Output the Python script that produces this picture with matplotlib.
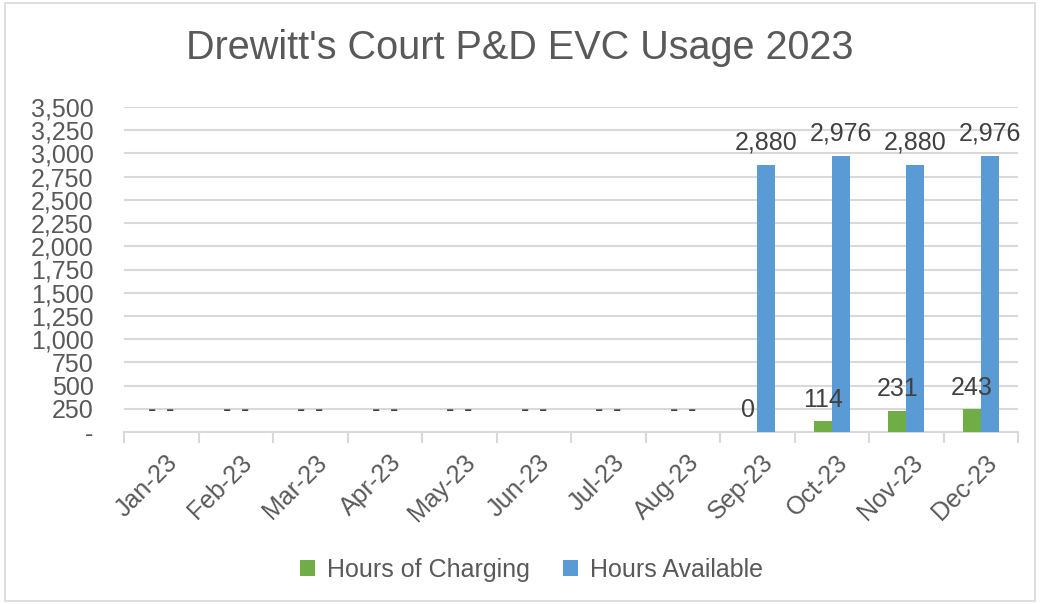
import matplotlib
matplotlib.use("Agg")
import matplotlib.pyplot as plt
import matplotlib.transforms as mtransforms
import numpy as np
from matplotlib.patches import Rectangle

plt.rcParams["font.family"] = ["Liberation Sans", "DejaVu Sans"]

meses = ["Jan-23", "Feb-23", "Mar-23", "Apr-23", "May-23", "Jun-23",
         "Jul-23", "Aug-23", "Sep-23", "Oct-23", "Nov-23", "Dec-23"]
horas_carga = [None, None, None, None, None, None, None, None, 0, 114, 231, 243]
horas_disp = [None, None, None, None, None, None, None, None, 2880, 2976, 2880, 2976]

verde = "#70AD47"
azul = "#5B9BD5"
gris_texto = "#595959"
gris_linea = "#D9D9D9"

fig = plt.figure(figsize=(10.4, 6.04), dpi=100)
ax = fig.add_axes([124 / 1040, 1 - 432 / 604, (1018 - 124) / 1040, (432 - 107) / 604])

# marco gris alrededor del grafico
fig.patches.append(Rectangle((0.005, 0.005), 0.99, 0.99, transform=fig.transFigure,
                             fill=False, edgecolor=gris_linea, linewidth=1.2))

x = np.arange(len(meses))
ancho = 0.24


def a_num(vals):
    return [0 if v is None else v for v in vals]


def etiqueta(v):
    return "-" if v is None else f"{v:,.0f}"


barras_c = ax.bar(x - ancho / 2, a_num(horas_carga), ancho, color=verde,
                  label="Hours of Charging", zorder=3)
barras_d = ax.bar(x + ancho / 2, a_num(horas_disp), ancho, color=azul,
                  label="Hours Available", zorder=3)

for barras, vals in [(barras_c, horas_carga), (barras_d, horas_disp)]:
    for barra, v in zip(barras, vals):
        ax.annotate(etiqueta(v),
                    (barra.get_x() + barra.get_width() / 2, barra.get_height()),
                    xytext=(0, 7), textcoords="offset points",
                    ha="center", va="bottom", fontsize=18, color="#404040")

ax.set_xlim(-0.5, len(meses) - 0.5)
ax.set_ylim(0, 3500)
ax.set_yticks(np.arange(0, 3501, 250))
ax.set_yticklabels(["-"] + [f"{v:,}" for v in range(250, 3501, 250)])
ax.yaxis.grid(True, color=gris_linea, linewidth=1.5, zorder=0)
ax.tick_params(axis="y", length=0, pad=22, labelsize=18, labelcolor=gris_texto)

ax.set_xticks(x)
ax.set_xticklabels(meses, rotation=45, ha="right", rotation_mode="anchor")
ax.tick_params(axis="x", length=0, pad=13, labelsize=18, labelcolor=gris_texto)
desplazar = mtransforms.ScaledTranslation(4 / 100, 0, fig.dpi_scale_trans)
for lbl in ax.get_xticklabels():
    lbl.set_transform(lbl.get_transform() + desplazar)
ax.set_xticks(np.arange(-0.5, len(meses)), minor=True)
ax.tick_params(axis="x", which="minor", length=8, color=gris_linea, width=1.5)

for lado in ["top", "right", "left"]:
    ax.spines[lado].set_visible(False)
ax.spines["bottom"].set_color(gris_linea)
ax.spines["bottom"].set_linewidth(1.5)

fig.text(0.5, 1 - 48 / 604, "Drewitt's Court P&D EVC Usage 2023", ha="center",
         va="center", fontsize=28.5, color=gris_texto)

fig.legend(handles=[barras_c, barras_d], loc="center", bbox_to_anchor=(0.511, 1 - 570 / 604),
           ncol=2, frameon=False, fontsize=18, labelcolor=gris_texto,
           handlelength=0.6, handleheight=0.6, handletextpad=0.5, columnspacing=1.3)

plt.savefig("out.png", dpi=100)
plt.close()
